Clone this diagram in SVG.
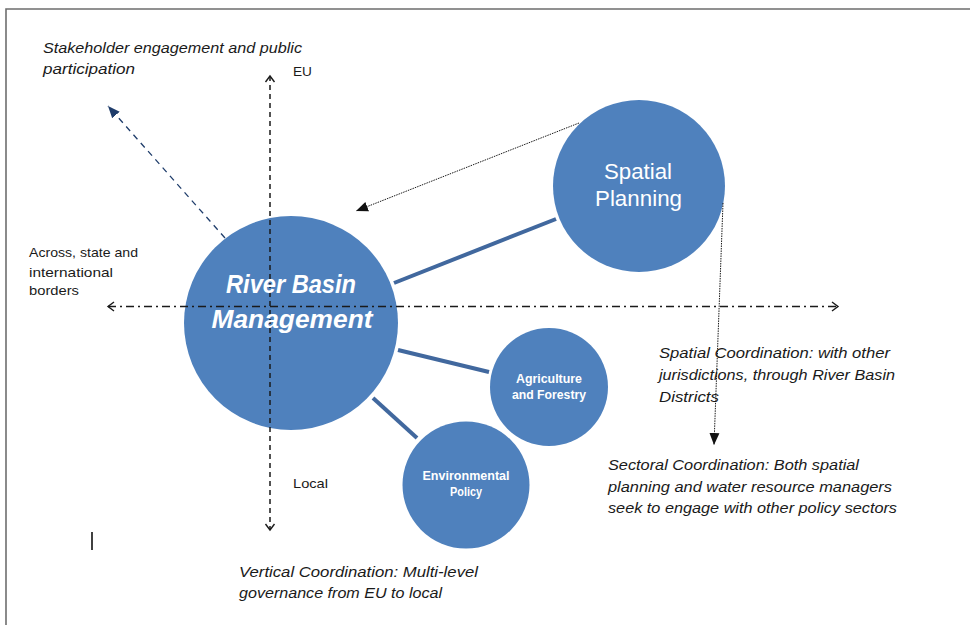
<svg xmlns="http://www.w3.org/2000/svg" width="970" height="625" viewBox="0 0 970 625">
<defs>
<style>
.node{fill:#4f81bd;}
.wt{fill:#ffffff;font-family:"Liberation Sans",Arial,sans-serif;text-anchor:middle;}
.it{font-family:"Liberation Sans",Arial,sans-serif;font-style:italic;font-size:14.5px;fill:#1a1a1a;}
.nt{font-family:"Liberation Sans",Arial,sans-serif;font-size:13.5px;fill:#1a1a1a;}
.link{stroke:#41689e;stroke-width:4;fill:none;}
.axis{stroke:#1a1a1a;stroke-width:1.5;fill:none;}
.dot{stroke:#1a1a1a;stroke-width:1;stroke-dasharray:1.5,1;fill:none;}
</style>
<marker id="chev" markerUnits="userSpaceOnUse" markerWidth="12" markerHeight="12" refX="9" refY="6" orient="auto-start-reverse">
<path d="M3,1.5 L9,6 L3,10.5" fill="none" stroke="#1a1a1a" stroke-width="1.4"/>
</marker>
<marker id="tri" markerUnits="userSpaceOnUse" markerWidth="14" markerHeight="12" refX="12" refY="6" orient="auto">
<path d="M0,1 L12,6 L0,11 Z" fill="#111"/>
</marker>
<marker id="triblue" markerUnits="userSpaceOnUse" markerWidth="14" markerHeight="12" refX="12" refY="6" orient="auto">
<path d="M0,1 L12,6 L0,11 Z" fill="#1f3d6b"/>
</marker>
</defs>
<rect width="970" height="625" fill="#ffffff"/>
<path d="M6,625 L6,9 L970,9" fill="none" stroke="#6e6e6e" stroke-width="1.6"/>

<g id="node-rbm"><circle class="node" cx="291" cy="323" r="107"/></g>
<g id="node-spatial"><circle class="node" cx="639" cy="186" r="86"/></g>
<g id="node-agri"><circle class="node" cx="549" cy="387" r="59"/></g>
<g id="node-env"><circle class="node" cx="466" cy="485" r="63.5"/></g>

<g id="connectors">
<line class="link" x1="394" y1="283" x2="556" y2="219"/>
<line class="link" x1="398" y1="350" x2="489" y2="372"/>
<line class="link" x1="373" y1="398" x2="417" y2="438"/>
<line class="axis" x1="270" y1="76" x2="270" y2="530" stroke-dasharray="5,4" marker-start="url(#chev)" marker-end="url(#chev)"/>
<line class="axis" x1="108" y1="306.5" x2="838" y2="306.5" stroke-dasharray="8,4,2,4" marker-start="url(#chev)" marker-end="url(#chev)"/>
<line x1="225" y1="238" x2="108" y2="106" stroke="#1f3d6b" stroke-width="1.3" stroke-dasharray="6,5" marker-end="url(#triblue)"/>
<line class="dot" x1="579" y1="123" x2="356" y2="211" marker-end="url(#tri)"/>
<line class="dot" x1="723" y1="203" x2="714" y2="445" marker-end="url(#tri)"/>
</g>

<g id="labels-nodes">
<text class="wt" x="291" y="293" font-size="25" font-weight="bold" font-style="italic" textLength="130" lengthAdjust="spacingAndGlyphs">River Basin</text>
<text class="wt" x="292" y="328" font-size="25" font-weight="bold" font-style="italic" textLength="161" lengthAdjust="spacingAndGlyphs">Management</text>
<text class="wt" x="638" y="179" font-size="22" textLength="68" lengthAdjust="spacingAndGlyphs">Spatial</text>
<text class="wt" x="638.5" y="206" font-size="22" textLength="87" lengthAdjust="spacingAndGlyphs">Planning</text>
<text class="wt" x="549" y="383" font-size="12.5" font-weight="bold" textLength="66" lengthAdjust="spacingAndGlyphs">Agriculture</text>
<text class="wt" x="549" y="399" font-size="12.5" font-weight="bold" textLength="74" lengthAdjust="spacingAndGlyphs">and Forestry</text>
<text class="wt" x="466" y="480" font-size="12.5" font-weight="bold" textLength="87" lengthAdjust="spacingAndGlyphs">Environmental</text>
<text class="wt" x="466" y="496" font-size="12.5" font-weight="bold" textLength="32" lengthAdjust="spacingAndGlyphs">Policy</text>
</g>

<g id="labels">
<text class="it" x="43" y="53" textLength="259" lengthAdjust="spacingAndGlyphs">Stakeholder engagement and public</text>
<text class="it" x="43" y="74" textLength="92" lengthAdjust="spacingAndGlyphs">participation</text>
<text class="nt" x="293" y="76" font-size="14.5" textLength="19" lengthAdjust="spacingAndGlyphs">EU</text>
<text class="nt" x="29" y="257" textLength="109" lengthAdjust="spacingAndGlyphs">Across, state and</text>
<text class="nt" x="29" y="277" textLength="84" lengthAdjust="spacingAndGlyphs">international</text>
<text class="nt" x="29" y="295" textLength="50" lengthAdjust="spacingAndGlyphs">borders</text>
<text class="nt" x="293" y="488" font-size="14.5" textLength="35" lengthAdjust="spacingAndGlyphs">Local</text>
<text class="it" x="239" y="577" textLength="239" lengthAdjust="spacingAndGlyphs">Vertical Coordination:  Multi-level</text>
<text class="it" x="239" y="598" textLength="203" lengthAdjust="spacingAndGlyphs">governance from EU to local</text>
<text class="it" x="659" y="358" textLength="231" lengthAdjust="spacingAndGlyphs">Spatial Coordination:  with other</text>
<text class="it" x="659" y="380" textLength="236" lengthAdjust="spacingAndGlyphs">jurisdictions, through River Basin</text>
<text class="it" x="659" y="402" textLength="60" lengthAdjust="spacingAndGlyphs">Districts</text>
<text class="it" x="608" y="470" textLength="251" lengthAdjust="spacingAndGlyphs">Sectoral Coordination:  Both spatial</text>
<text class="it" x="608" y="492" textLength="284" lengthAdjust="spacingAndGlyphs">planning and water resource managers</text>
<text class="it" x="608" y="513" textLength="289" lengthAdjust="spacingAndGlyphs">seek to engage with other policy sectors</text>
</g>
<line x1="92" y1="532" x2="92" y2="550" stroke="#111" stroke-width="1.6"/>
</svg>
